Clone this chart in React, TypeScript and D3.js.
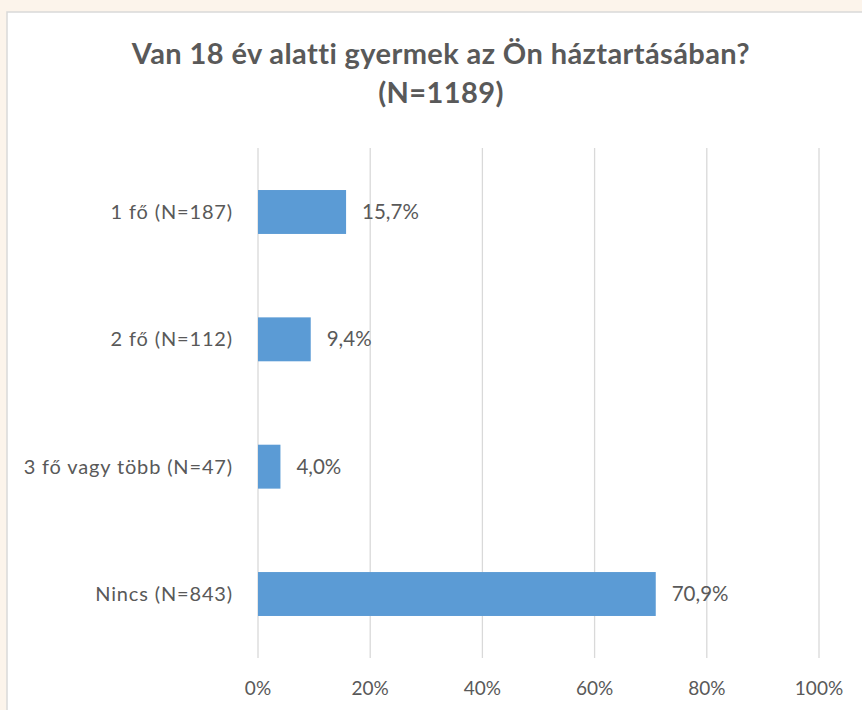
import React from "react";
import * as d3 from "d3";

const categories = ["1 fő (N=187)", "2 fő (N=112)", "3 fő vagy több (N=47)", "Nincs (N=843)"];
const values = [15.7, 9.4, 4.0, 70.9];
const valueLabels = ["15,7%", "9,4%", "4,0%", "70,9%"];
const ticks = [0, 20, 40, 60, 80, 100];
const titleLines = ["Van 18 év alatti gyermek az Ön háztartásában?", "(N=1189)"];

export default function App() {
  const W = 862, H = 710;
  const x = d3.scaleLinear().domain([0, 100]).range([258, 819]);
  const y = d3.scaleBand<string>().domain(categories).range([148, 658]).paddingInner(0.655).paddingOuter(0.33);
  const font = "Lato, 'Open Sans', sans-serif";
  const grey = "#595959";
  return (
    <svg width={W} height={H} style={{ position: "absolute", left: 0, top: 0 }}>
      <rect x={0} y={0} width={W} height={H} fill="#FCF4EB" />
      <rect x={7} y={12} width={W} height={H} fill="#fff" stroke="#D9D9D9" strokeWidth={1.5} />
      {titleLines.map((t, i) => (
        <text key={i} x={441} y={64 + i * 39} textAnchor="middle" fontFamily={font} fontWeight="bold" fontSize={29} letterSpacing={0.4} fill={grey}>{t}</text>
      ))}
      {ticks.map((t) => (
        <g key={t}>
          <line x1={x(t)} x2={x(t)} y1={148} y2={658} stroke="#D9D9D9" strokeWidth={1.3} />
          <text x={x(t)} y={695} textAnchor="middle" fontFamily={font} fontSize={19} fill={grey}>{t}%</text>
        </g>
      ))}
      {categories.map((c, i) => {
        const yy = y(c)!;
        const bh = y.bandwidth();
        return (
          <g key={c}>
            <rect x={x(0)} y={yy} width={x(values[i]) - x(0)} height={bh} fill="#5B9BD5" />
            <text x={233} y={yy + bh / 2 + 7} textAnchor="end" fontFamily={font} fontSize={20} letterSpacing={0.85} fill={grey}>{c}</text>
            <text x={x(values[i]) + 16} y={yy + bh / 2 + 7} fontFamily={font} fontSize={20.5} fill={grey}>{valueLabels[i]}</text>
          </g>
        );
      })}
    </svg>
  );
}
